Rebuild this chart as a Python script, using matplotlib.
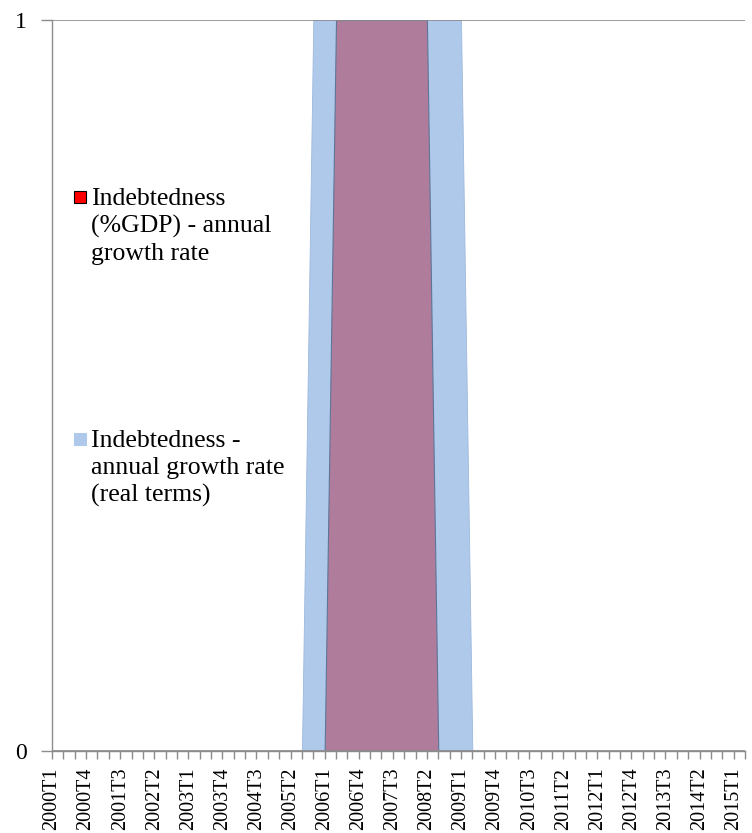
import matplotlib

matplotlib.use("Agg")
import matplotlib.pyplot as plt
from matplotlib.patches import Rectangle

plt.rcParams["font.family"] = ["Liberation Serif", "DejaVu Serif"]

# quarterly categories 2000T1 .. 2015T2
quarters = [f"{year}T{q}" for year in range(2000, 2016) for q in range(1, 5)][:62]

# 1 = indicator active in that quarter
debt_gdp_growth = [
    0, 0, 0, 0, 0, 0, 0, 0, 0, 0, 0, 0, 0, 0, 0, 0,
    0, 0, 0, 0, 0, 0, 0, 0, 0, 1, 1, 1, 1, 1, 1, 1,
    1, 1, 0, 0, 0, 0, 0, 0, 0, 0, 0, 0, 0, 0, 0, 0,
    0, 0, 0, 0, 0, 0, 0, 0, 0, 0, 0, 0, 0, 0,
]
debt_real_growth = [
    0, 0, 0, 0, 0, 0, 0, 0, 0, 0, 0, 0, 0, 0, 0, 0,
    0, 0, 0, 0, 0, 0, 0, 1, 1, 1, 1, 1, 1, 1, 1, 1,
    1, 1, 1, 1, 1, 0, 0, 0, 0, 0, 0, 0, 0, 0, 0, 0,
    0, 0, 0, 0, 0, 0, 0, 0, 0, 0, 0, 0, 0, 0,
]

labels = [
    "Indebtedness\n(%GDP) - annual\ngrowth rate",
    "Indebtedness -\nannual growth rate\n(real terms)",
]

BLUE = "#AFC9EA"
PURPLE = "#AF7C9C"
AXIS_GREY = "#8C8C8C"

fig = plt.figure(figsize=(7.52, 8.33), dpi=100)
ax = fig.add_axes([52 / 752, 82 / 833, 693 / 752, 731 / 833])

x = list(range(len(quarters)))
ax.fill_between(x, 0, debt_real_growth, color=BLUE, edgecolor="#9DB8DE", linewidth=0.6, zorder=1)
ax.fill_between(x, 0, debt_gdp_growth, color=PURPLE, edgecolor="#5F7596", linewidth=0.8, zorder=2)

ax.set_xlim(0, len(quarters) - 1)
ax.set_ylim(0, 1)
ax.set_yticks([0, 1])
ax.set_yticklabels(["0", "1"])
ax.set_xticks(x)
ax.set_xticklabels([q if i % 3 == 0 else "" for i, q in enumerate(quarters)], rotation=90)

ax.tick_params(axis="x", length=6, width=1, color=AXIS_GREY, pad=6, labelsize=14.5)
ax.tick_params(axis="y", length=8, width=1, color=AXIS_GREY, pad=10, labelsize=17)
ax.grid(axis="y", color=AXIS_GREY, linewidth=1.2, zorder=3)
ax.set_axisbelow(False)

for side in ("top", "right"):
    ax.spines[side].set_visible(False)
for side in ("left", "bottom"):
    ax.spines[side].set_color(AXIS_GREY)
    ax.spines[side].set_linewidth(1)
    ax.spines[side].set_zorder(4)

# legend entries, stacked down the left side
legend_items = [
    (labels[0], "#FF0000", "#000000", 197),
    (labels[1], BLUE, BLUE, 439),
]
for text, face, edge, y_px in legend_items:
    fig.patches.append(
        Rectangle(
            (74 / 752, 1 - (y_px + 6) / 833), 12 / 752, 12 / 833,
            facecolor=face, edgecolor=edge, linewidth=0.8,
            transform=fig.transFigure, figure=fig,
        )
    )
    fig.text(91 / 752, 1 - (y_px - 9) / 833, text, fontsize=18.5,
             va="top", ha="left", linespacing=1.28)

fig.savefig("out.png", dpi=100)
